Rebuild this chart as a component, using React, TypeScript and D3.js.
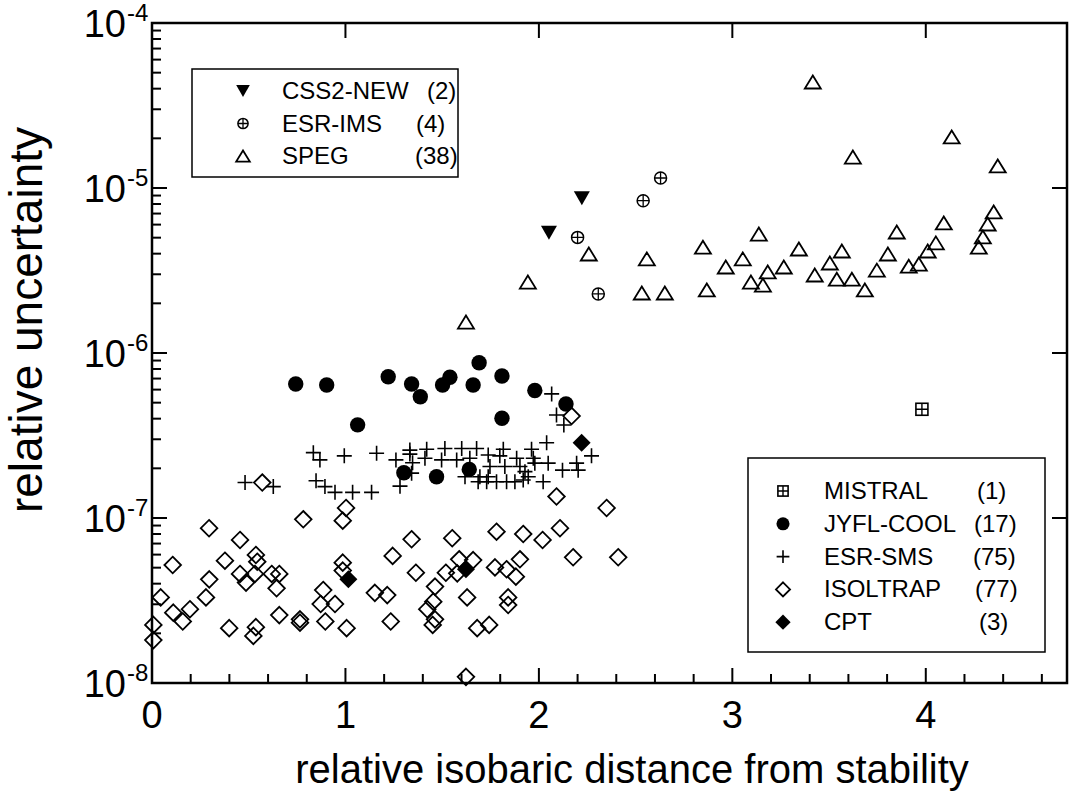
import React from 'react';
import * as d3 from 'd3';

const W = 1069;
const H = 791;
const X_DOMAIN: [number, number] = [0, 4.73];
const Y_DOMAIN: [number, number] = [1e-8, 1e-4];
const X_MAJOR = [0, 1, 2, 3, 4];
const Y_DECADES = [-8, -7, -6, -5, -4];

const CSS2_NEW: [number, number][] = [[2.052, 5.36e-6], [2.222, 8.67e-6]];
const ESR_IMS: [number, number][] = [[2.2, 5.02e-6], [2.307, 2.28e-6], [2.539, 8.38e-6], [2.629, 1.15e-5]];
const SPEG: [number, number][] = [
  [1.623, 1.54e-6], [1.943, 2.69e-6], [2.258, 3.98e-6], [2.558, 3.72e-6], [2.532, 2.31e-6],
  [2.651, 2.31e-6], [2.848, 4.38e-6], [2.868, 2.41e-6], [2.966, 3.32e-6], [3.054, 3.72e-6],
  [3.096, 2.69e-6], [3.137, 5.26e-6], [3.158, 2.58e-6], [3.183, 3.1e-6], [3.266, 3.32e-6],
  [3.344, 4.27e-6], [3.416, 4.39e-5], [3.426, 2.97e-6], [3.504, 3.51e-6], [3.54, 2.8e-6],
  [3.566, 4.15e-6], [3.618, 2.8e-6], [3.623, 1.54e-5], [3.685, 2.41e-6], [3.747, 3.18e-6],
  [3.804, 3.98e-6], [3.85, 5.41e-6], [3.912, 3.36e-6], [3.964, 3.46e-6], [4.01, 4.15e-6],
  [4.052, 4.65e-6], [4.093, 6.14e-6], [4.134, 2.04e-5], [4.274, 4.38e-6], [4.295, 5.05e-6],
  [4.32, 6.05e-6], [4.351, 7.16e-6], [4.372, 1.36e-5],
];
const MISTRAL: [number, number][] = [[3.98, 4.56e-7]];
const JYFL_COOL: [number, number][] = [
  [0.743, 6.49e-7], [0.903, 6.4e-7], [1.063, 3.67e-7], [1.221, 7.18e-7], [1.302, 1.88e-7],
  [1.342, 6.49e-7], [1.387, 5.43e-7], [1.471, 1.78e-7], [1.502, 6.4e-7], [1.54, 7.13e-7],
  [1.64, 1.97e-7], [1.66, 6.4e-7], [1.691, 8.73e-7], [1.809, 7.26e-7], [1.809, 4.02e-7],
  [1.979, 5.92e-7], [2.14, 4.91e-7],
];
const ESR_SMS: [number, number][] = [
  [0.834, 2.49e-7], [0.868, 2.25e-7], [0.994, 2.38e-7], [1.161, 2.47e-7], [1.261, 2.25e-7],
  [1.333, 2.58e-7], [1.333, 2.44e-7], [1.347, 2.16e-7], [0.481, 1.64e-7], [0.627, 1.55e-7],
  [0.848, 1.68e-7], [0.894, 1.55e-7], [0.946, 1.43e-7], [1.037, 1.43e-7], [1.135, 1.43e-7],
  [1.282, 1.56e-7], [1.342, 1.87e-7],
  [2.066, 5.65e-7], [2.091, 4.21e-7], [2.129, 3.66e-7], [2.04, 2.86e-7], [2.272, 2.38e-7],
  [2.195, 2.15e-7], [2.203, 1.95e-7], [2.122, 1.95e-7], [2.022, 1.66e-7], [1.42, 2.61e-7],
  [1.411, 2.3e-7], [1.514, 2.64e-7], [1.497, 2.25e-7], [1.601, 2.64e-7], [1.575, 2.25e-7],
  [1.678, 2.64e-7], [1.643, 2.3e-7], [1.738, 2.41e-7], [1.816, 2.61e-7], [1.798, 2.38e-7],
  [1.885, 2.3e-7], [1.962, 2.61e-7], [1.971, 2.3e-7], [1.979, 2.15e-7], [2.048, 2.15e-7],
  [1.747, 2.05e-7], [1.824, 2.05e-7], [1.902, 2.05e-7], [1.928, 1.91e-7], [1.618, 1.78e-7],
  [1.695, 1.78e-7], [1.738, 1.78e-7], [1.781, 1.66e-7], [1.833, 1.66e-7], [1.876, 1.66e-7],
  [1.919, 1.7e-7], [1.945, 1.78e-7], [1.686, 1.66e-7], [1.73, 1.66e-7],
];
const ISOLTRAP: [number, number][] = [
  [0.57, 1.64e-7], [1.003, 1.15e-7], [0.986, 9.64e-8], [0.782, 9.82e-8], [0.295, 8.67e-8],
  [0.455, 7.36e-8], [0.537, 5.97e-8], [0.544, 5.43e-8], [0.377, 5.51e-8], [0.107, 5.19e-8],
  [0.455, 4.58e-8], [0.532, 4.58e-8], [0.619, 4.58e-8], [0.658, 4.58e-8], [0.296, 4.25e-8],
  [0.486, 4.06e-8], [0.644, 3.75e-8], [0.986, 5.36e-8], [0.986, 4.8e-8], [0.885, 3.66e-8],
  [0.045, 3.3e-8], [0.279, 3.3e-8], [1.152, 3.52e-8], [0.872, 3.01e-8], [0.946, 3.01e-8],
  [0.196, 2.8e-8], [0.11, 2.67e-8], [0.159, 2.36e-8], [0.658, 2.58e-8], [0.765, 2.43e-8],
  [0.765, 2.32e-8], [0.896, 2.36e-8], [0.007, 2.25e-8], [0.007, 1.82e-8], [0.399, 2.15e-8],
  [0.537, 2.18e-8], [0.524, 1.93e-8], [1.006, 2.15e-8], [2.091, 1.35e-7], [2.35, 1.15e-7],
  [1.342, 7.43e-8], [1.552, 7.54e-8], [1.781, 8.26e-8], [1.919, 8.0e-8], [2.019, 7.36e-8],
  [2.109, 8.67e-8], [1.244, 5.89e-8], [1.364, 4.66e-8], [1.519, 4.66e-8], [1.588, 5.62e-8],
  [1.66, 5.56e-8], [1.578, 4.62e-8], [1.773, 5.02e-8], [1.833, 4.89e-8], [1.902, 5.62e-8],
  [1.881, 4.41e-8], [2.177, 5.78e-8], [2.41, 5.78e-8], [1.216, 3.41e-8], [1.463, 3.84e-8],
  [1.454, 3.11e-8], [1.423, 2.8e-8], [1.629, 3.3e-8], [1.841, 3.3e-8], [1.841, 2.97e-8],
  [1.234, 2.36e-8], [1.463, 2.43e-8], [1.451, 2.25e-8], [1.681, 2.15e-8], [1.743, 2.25e-8],
  [1.623, 1.09e-8], [2.169, 4.15e-7],
];
const CPT: [number, number][] = [[1.015, 4.25e-8], [1.623, 4.89e-8], [2.221, 2.86e-7]];

type Sym = 'triDown' | 'oplus' | 'triUp' | 'boxplus' | 'circle' | 'plus' | 'diamond' | 'diamondFill';

const LEGEND_TOP = [
  { name: 'CSS2-NEW', count: '(2)', sym: 'triDown' as Sym },
  { name: 'ESR-IMS', count: '(4)', sym: 'oplus' as Sym },
  { name: 'SPEG', count: '(38)', sym: 'triUp' as Sym },
];
const LEGEND_BOTTOM = [
  { name: 'MISTRAL', count: '(1)', sym: 'boxplus' as Sym },
  { name: 'JYFL-COOL', count: '(17)', sym: 'circle' as Sym },
  { name: 'ESR-SMS', count: '(75)', sym: 'plus' as Sym },
  { name: 'ISOLTRAP', count: '(77)', sym: 'diamond' as Sym },
  { name: 'CPT', count: '(3)', sym: 'diamondFill' as Sym },
];

const FONT = "'Liberation Sans', Arial, Helvetica, sans-serif";

function Marker({ sym, cx, cy, k = 1 }: { sym: Sym; cx: number; cy: number; k?: number }) {
  const t = `translate(${cx},${cy})`;
  switch (sym) {
    case 'triUp': {
      const w = 16 * k, h = 13 * k;
      return <path transform={t} d={`M0,${-h / 2}L${w / 2},${h / 2}L${-w / 2},${h / 2}Z`} fill="none" stroke="#000" strokeWidth={1.8} />;
    }
    case 'triDown': {
      const w = 16 * k, h = 14 * k;
      return <path transform={t} d={`M${-w / 2},${-h / 2}L${w / 2},${-h / 2}L0,${h / 2}Z`} fill="#000" />;
    }
    case 'diamond': {
      const r = 8.3 * k;
      return <path transform={t} d={`M0,${-r}L${r},0L0,${r}L${-r},0Z`} fill="none" stroke="#000" strokeWidth={1.8} />;
    }
    case 'diamondFill': {
      const r = 9 * k;
      return <path transform={t} d={`M0,${-r}L${r},0L0,${r}L${-r},0Z`} fill="#000" />;
    }
    case 'circle':
      return <circle cx={cx} cy={cy} r={7.7 * k} fill="#000" />;
    case 'plus': {
      const r = 7.5 * k;
      return <path transform={t} d={`M${-r},0H${r}M0,${-r}V${r}`} stroke="#000" strokeWidth={1.6} />;
    }
    case 'oplus': {
      const r = 6 * k;
      return (
        <g transform={t}>
          <circle r={r} fill="none" stroke="#000" strokeWidth={1.5} />
          <path d={`M${-r},0H${r}M0,${-r}V${r}`} stroke="#000" strokeWidth={1.3} />
        </g>
      );
    }
    case 'boxplus': {
      const r = 6 * k;
      return (
        <g transform={t}>
          <rect x={-r} y={-r} width={2 * r} height={2 * r} fill="none" stroke="#000" strokeWidth={1.6} />
          <path d={`M${-r},0H${r}M0,${-r}V${r}`} stroke="#000" strokeWidth={1.4} />
        </g>
      );
    }
  }
  return null;
}

export default function App() {
  const left = 152, right = 1067, top = 23, bottom = 683;
  const x = d3.scaleLinear().domain(X_DOMAIN).range([left, right]);
  const y = d3.scaleLog().domain(Y_DOMAIN).range([bottom, top]);

  const xMinor = d3.range(0, 4.73, 0.2).filter((v) => Math.abs(v - Math.round(v)) > 1e-6);
  const yMinor = y.ticks().filter((v) => Math.abs(Math.log10(v) - Math.round(Math.log10(v))) > 1e-6);

  const series: { data: [number, number][]; sym: Sym }[] = [
    { data: ISOLTRAP, sym: 'diamond' },
    { data: ESR_SMS, sym: 'plus' },
    { data: JYFL_COOL, sym: 'circle' },
    { data: CPT, sym: 'diamondFill' },
    { data: SPEG, sym: 'triUp' },
    { data: ESR_IMS, sym: 'oplus' },
    { data: CSS2_NEW, sym: 'triDown' },
    { data: MISTRAL, sym: 'boxplus' },
  ];

  const majLen = 15, minLen = 9;

  return (
    <svg width={W} height={H} style={{ position: 'absolute', left: 0, top: 0, background: '#fff' }} fontFamily={FONT}>
      <rect x={0} y={0} width={W} height={H} fill="#fff" />
      {series.map((s, i) => (
        <g key={i}>
          {s.data.map((d, j) => (
            <Marker key={j} sym={s.sym} cx={x(d[0])} cy={y(d[1])} />
          ))}
        </g>
      ))}
      <g stroke="#000" strokeWidth={2}>
        {X_MAJOR.map((v) => (
          <g key={'xm' + v}>
            <line x1={x(v)} x2={x(v)} y1={bottom} y2={bottom - majLen} />
            <line x1={x(v)} x2={x(v)} y1={top} y2={top + majLen} />
          </g>
        ))}
        {xMinor.map((v, i) => (
          <line key={'xn' + i} x1={x(v)} x2={x(v)} y1={bottom} y2={bottom - minLen} />
        ))}
        {Y_DECADES.map((e) => (
          <g key={'ym' + e}>
            <line x1={left} x2={left + majLen} y1={y(Math.pow(10, e))} y2={y(Math.pow(10, e))} />
            <line x1={right} x2={right - majLen} y1={y(Math.pow(10, e))} y2={y(Math.pow(10, e))} />
          </g>
        ))}
        {yMinor.map((v, i) => (
          <line key={'yn' + i} x1={left} x2={left + minLen} y1={y(v)} y2={y(v)} />
        ))}
      </g>
      <rect x={left} y={top} width={right - left} height={bottom - top} fill="none" stroke="#000" strokeWidth={2.5} />
      {X_MAJOR.map((v) => (
        <text key={'xl' + v} x={x(v)} y={bottom + 45} textAnchor="middle" fontSize={38} fill="#000">
          {v}
        </text>
      ))}
      {Y_DECADES.map((e) => (
        <g key={'yl' + e}>
          <text x={126} y={y(Math.pow(10, e)) + 14} textAnchor="end" fontSize={38} fill="#000">10</text>
          <text x={127} y={y(Math.pow(10, e)) - 2} textAnchor="start" fontSize={24} fill="#000">{e}</text>
        </g>
      ))}
      <text x={632} y={783} textAnchor="middle" fontSize={40} fill="#000">relative isobaric distance from stability</text>
      <text transform={`translate(42,320) rotate(-90)`} textAnchor="middle" fontSize={46} fill="#000">relative uncertainty</text>
      <rect x={192} y={69} width={266} height={108} fill="#fff" stroke="#000" strokeWidth={1.5} />
      {LEGEND_TOP.map((l, i) => {
        const cy = 91 + i * 32.5;
        const cxs = [427, 416, 415];
        return (
          <g key={'lt' + i}>
            <Marker sym={l.sym} cx={243} cy={cy} k={0.85} />
            <text x={282} y={cy + 8} fontSize={24} fill="#000">{l.name}</text>
            <text x={cxs[i]} y={cy + 8} fontSize={24} fill="#000">{l.count}</text>
          </g>
        );
      })}
      <rect x={748} y={458} width={297} height={194} fill="#fff" stroke="#000" strokeWidth={1.5} />
      {LEGEND_BOTTOM.map((l, i) => {
        const cy = 491 + i * 32.8;
        const cxs = [977, 974, 973, 975, 979];
        return (
          <g key={'lb' + i}>
            <Marker sym={l.sym} cx={783} cy={cy} k={0.85} />
            <text x={824} y={cy + 8} fontSize={24} fill="#000">{l.name}</text>
            <text x={cxs[i]} y={cy + 8} fontSize={24} fill="#000">{l.count}</text>
          </g>
        );
      })}
    </svg>
  );
}
